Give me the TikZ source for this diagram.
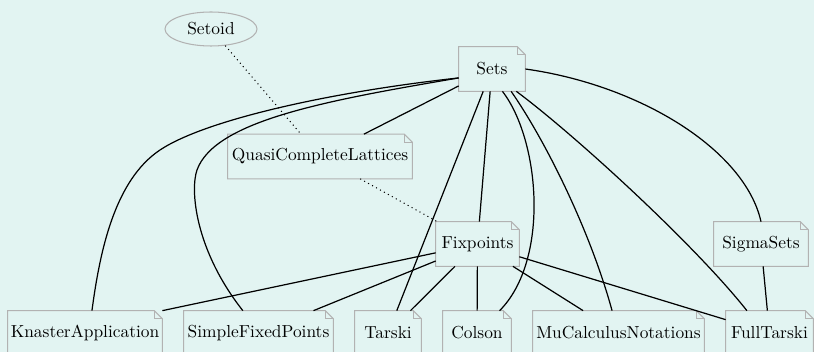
\documentclass[tikz,border=0pt]{standalone}
\usetikzlibrary{shapes.geometric}

\definecolor{bgcol}{RGB}{226,244,242}
\definecolor{outline}{RGB}{178,178,178}

\newlength{\fold}
\setlength{\fold}{4.6pt}

\tikzset{
  notebox/.style={minimum width=#1*0.575pt, minimum height=44*0.575pt,
    inner xsep=1pt, inner ysep=0pt, font=\normalsize},
  noteline/.style={draw=outline, line width=0.6pt, line join=miter},
  dep/.style={draw=black, line width=0.7pt},
  weak/.style={draw=black, line width=0.6pt, dotted},
}

\begin{document}
\begin{tikzpicture}[x=0.575pt, y=-0.575pt]
  \useasboundingbox (0,0) rectangle (814,352);
  \fill[bgcol] (0,0) rectangle (814,352);

  % modules
  \node[ellipse, draw=outline, line width=0.6pt, minimum width=92*0.575pt,
        minimum height=34*0.575pt, inner sep=0pt] (Setoid) at (211,29) {Setoid};
  \node[notebox=66]  (Sets)      at (492,69)    {Sets};
  \node[notebox=184] (Quasi)     at (320,156.5) {QuasiCompleteLattices};
  \node[notebox=83]  (Fixpoints) at (477.5,244) {Fixpoints};
  \node[notebox=94]  (SigmaSets) at (761,244)   {SigmaSets};
  \node[notebox=154] (Knaster)   at (85,333)    {KnasterApplication};
  \node[notebox=149] (Simple)    at (258.5,333) {SimpleFixedPoints};
  \node[notebox=66]  (Tarski)    at (388,333)   {Tarski};
  \node[notebox=68]  (Colson)    at (477,333)   {Colson};
  \node[notebox=171] (MuCalc)    at (618.5,333) {MuCalculusNotations};
  \node[notebox=87]  (FullTarski) at (769.5,333) {FullTarski};

  % note outlines with a folded corner
  \foreach \n in {Sets,Quasi,Fixpoints,SigmaSets,Knaster,Simple,Tarski,Colson,MuCalc,FullTarski}{
    \draw[noteline] (\n.south west) -- (\n.north west)
      -- ([xshift=-\fold]\n.north east) -- ([yshift=-\fold]\n.north east)
      -- (\n.south east) -- cycle;
    \draw[noteline] ([xshift=-\fold]\n.north east)
      -- ([xshift=-\fold,yshift=-\fold]\n.north east)
      -- ([yshift=-\fold]\n.north east);
  }

  % dependencies on Sets
  \draw[dep] (Sets.195) .. controls (330,92) and (205,120) .. (160,150)
             .. controls (115,180) and (100,250) .. ([xshift=4pt]Knaster.north);
  \draw[dep] (Sets.195) .. controls (330,100) and (215,120) .. (197,170)
             .. controls (190,190) and (195,250) .. ([xshift=-9pt]Simple.north);
  \draw[dep] (Sets) -- (Quasi);
  \draw[dep] (Sets) -- (Tarski);
  \draw[dep] (Sets) -- (Fixpoints);
  \draw[dep] ([xshift=6pt]Sets.south) .. controls (540,140) and (550,260)
             .. ([xshift=13pt]Colson.north);
  \draw[dep] ([xshift=11pt]Sets.south) .. controls (545,140) and (590,230)
             .. ([xshift=-3.7pt]MuCalc.north);
  \draw[dep] ([xshift=14pt]Sets.south) .. controls (575,135) and (695,245)
             .. ([xshift=-13pt]FullTarski.north);
  \draw[dep] (Sets.east) .. controls (640,85) and (745,150) .. (SigmaSets.north);

  % dependencies on Fixpoints
  \draw[dep] (Fixpoints) -- (Knaster.north east);
  \draw[dep] (Fixpoints) -- (Simple);
  \draw[dep] (Fixpoints) -- (Tarski);
  \draw[dep] (Fixpoints) -- (Colson);
  \draw[dep] (Fixpoints) -- (MuCalc);
  \draw[dep] (Fixpoints) -- (FullTarski);
  \draw[dep] (SigmaSets) -- (FullTarski);

  % weak dependencies
  \draw[weak] (Setoid) -- (Quasi);
  \draw[weak] (Quasi) -- (Fixpoints);
\end{tikzpicture}
\end{document}
